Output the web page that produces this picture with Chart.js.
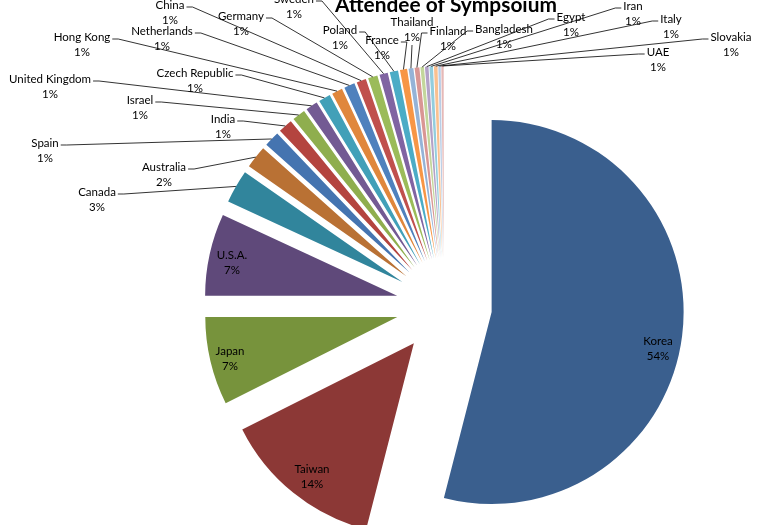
<!DOCTYPE html>
<html>
<head>
<meta charset="utf-8">
<script src="https://cdn.jsdelivr.net/npm/chart.js@4.4.0/dist/chart.umd.min.js"></script>
<style>
  html, body { margin: 0; padding: 0; background: #fff; }
  #wrap { width: 759px; height: 525px; }
</style>
</head>
<body>
<div id="wrap"><canvas id="pieChart"></canvas></div>
<script>
// attendee share by country (%)
const countries = ["Korea", "Taiwan", "Japan", "U.S.A.", "Canada", "Australia", "Spain", "India",
  "Israel", "United Kingdom", "Czech Republic", "Hong Kong", "Netherlands", "China", "Germany",
  "Sweden", "Poland", "France", "Thailand", "Finland", "Bangladesh", "Egypt", "Iran", "Italy",
  "Slovakia", "UAE"];
const shares = [54.0, 13.6, 7.4, 6.9, 2.8, 1.9, 1.3, 1.2,
  1.1, 1.0, 1.0, 0.9, 0.9, 0.8, 0.8,
  0.7, 0.7, 0.6, 0.4, 0.4, 0.3, 0.3, 0.3, 0.3,
  0.2, 0.2];
// percentage text as printed on the chart
const pctLabels = ["54%", "14%", "7%", "7%", "3%", "2%", "1%", "1%",
  "1%", "1%", "1%", "1%", "1%", "1%", "1%",
  "1%", "1%", "1%", "1%", "1%", "1%", "1%", "1%", "1%",
  "1%", "1%"];

const sliceColors = [
  "#3a5f8e", "#8c3836", "#77933c", "#5f497a", "#31859c", "#b97134",
  "#4574b0", "#b4443f", "#8fae4e", "#735a93", "#42a0b8", "#e0873c",
  "#4f81bd", "#c0504d", "#9bbb59", "#8064a2", "#4bacc6", "#f79646",
  "#95b3d7", "#d99694", "#c3d69b", "#b3a2c7", "#93cddd", "#fac090",
  "#b9cde5", "#e6b9b8"
];

// where each label sits (centre of the country name); the first four sit inside their slice
const labelSpots = [[658, 341], [312, 469], [230, 351], [232, 255],
  [97, 192], [164, 167], [45, 143], [223, 119], [140, 100], [50, 79], [195, 73],
  [82, 37], [162, 31], [170, 5], [241, 16], [294, -1], [340, 30], [382, 40],
  [412, 22], [448, 31], [504, 29], [571, 17], [633, 6], [671, 19], [731, 37], [658, 52]];
const insideCount = 4;

const explode = 48;

// pie slice that is pushed straight out by `offset` px, same radius as the others (excel style)
class EvenArc extends Chart.ArcElement {
  draw(ctx) {
    const opts = this.options;
    const push = opts.offset || 0;
    const half = (this.startAngle + this.endAngle) / 2;
    ctx.save();
    ctx.translate(Math.cos(half) * push, Math.sin(half) * push);
    this.options = Object.assign({}, opts, { offset: 0 });
    super.draw(ctx);
    this.options = opts;
    ctx.restore();
  }
}
EvenArc.id = "evenArc";
Chart.register(EvenArc);
Chart.defaults.datasets.pie.dataElementType = "evenArc";

const labelPlugin = {
  id: "pieLabels",
  afterDraw(chart) {
    const c = chart.ctx;
    const meta = chart.getDatasetMeta(0);

    c.save();
    c.fillStyle = "#000";
    c.textAlign = "center";
    c.textBaseline = "alphabetic";
    c.font = "bold 20px Lato";
    const tw = c.measureText("Attendee of Sympsoium").width;
    c.font = "bold " + (20 * 222 / tw).toFixed(2) + "px Lato";
    c.fillText("Attendee of Sympsoium", 446, 12);

    c.font = "11.5px Lato";
    c.textBaseline = "middle";
    c.strokeStyle = "rgba(0,0,0,0.8)";
    c.lineWidth = 1;

    meta.data.forEach((arc, i) => {
      const [lx, ly] = labelSpots[i];
      c.fillText(countries[i], lx, ly);
      c.fillText(pctLabels[i], lx, ly + 15);
      if (i < insideCount) return;

      // leader line to the middle of the slice's outer edge
      const p = arc.getProps(["x", "y", "startAngle", "endAngle", "outerRadius"], true);
      const mid = (p.startAngle + p.endAngle) / 2;
      const reach = (arc.options.offset || 0) + p.outerRadius;
      const ex = p.x + Math.cos(mid) * reach;
      const ey = p.y + Math.sin(mid) * reach;
      const w1 = c.measureText(countries[i]).width;
      const hw = Math.max(w1, c.measureText(pctLabels[i]).width) / 2;

      c.beginPath();
      if (ex > lx + hw + 4) {
        c.moveTo(lx + w1 / 2 + 2, ly + 2);
        c.lineTo(lx + w1 / 2 + 8, ly + 2);
      } else if (ex < lx - hw - 4) {
        c.moveTo(lx - w1 / 2 - 2, ly + 2);
        c.lineTo(lx - w1 / 2 - 8, ly + 2);
      } else {
        c.moveTo(lx, ly + 23);
      }
      c.lineTo(ex, ey);
      c.stroke();
    });
    c.restore();
  }
};

const ctx = document.getElementById("pieChart").getContext("2d");
const chart = new Chart(ctx, {
  type: "pie",
  data: {
    labels: countries,
    datasets: [{
      data: shares,
      backgroundColor: sliceColors,
      borderWidth: 0,
      offset: explode,
      hoverOffset: 0,
      radius: 192
    }]
  },
  options: {
    responsive: true,
    maintainAspectRatio: false,
    animation: false,
    events: [],
    layout: { padding: { left: 129, top: 87, right: 0, bottom: 0 } },
    plugins: {
      legend: { display: false },
      title: { display: false },
      tooltip: { enabled: false }
    }
  },
  plugins: [labelPlugin]
});
</script>
</body>
</html>
